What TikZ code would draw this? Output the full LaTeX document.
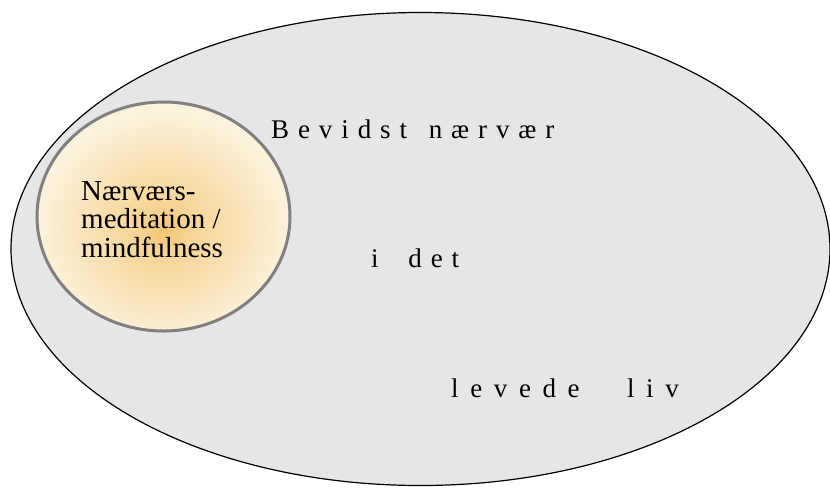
\documentclass[tikz,border=0pt]{standalone}
\usepackage{fontspec}
\setmainfont{LiberationSerif}[Extension=.ttf,UprightFont=*-Regular,BoldFont=*-Bold]
\newfontfamily\widefont{LiberationSerif}[Extension=.ttf,UprightFont=*-Regular,LetterSpace=33]
\newfontfamily\widerfont{LiberationSerif}[Extension=.ttf,UprightFont=*-Regular,LetterSpace=43]
\usetikzlibrary{shapes.geometric}

\definecolor{fieldgray}{RGB}{230,230,230}
\definecolor{ringgray}{RGB}{128,128,128}
\definecolor{glowcore}{RGB}{245,198,115}
\definecolor{glowrim}{RGB}{251,242,220}
\pgfdeclareradialshading{glow}{\pgfpoint{0bp}{-3bp}}{%
  color(0bp)=(glowcore);color(5bp)=(glowcore!70!glowrim);
  color(25bp)=(glowrim);color(100bp)=(glowrim)}

\begin{document}
\begin{tikzpicture}[x=1pt,y=-1pt,
        field/.style={ellipse,draw=black,line width=1.2pt,fill=fieldgray,inner sep=0pt},
        core/.style={ellipse,draw=ringgray,line width=3pt,shading=glow,inner sep=0pt},
        coretext/.style={align=left,inner sep=0pt,font=\fontsize{29}{28.5}\selectfont},
        spaced/.style={inner sep=0pt,anchor=base west,font=\widefont\fontsize{27}{30}\selectfont}]
    \useasboundingbox (0,0) rectangle (830,488);

    \node[field,minimum width=819pt,minimum height=473pt] (life) at (420.5,249) {};
    \node[core,minimum width=253pt,minimum height=229pt] (practice) at (163.5,216.5) {};

    \node[coretext,anchor=north west] (practicetext) at (81,181) {Nærværs-\\meditation /\\mindfulness};

    \node[spaced] (aware) at (271,138) {Bevidst\hspace{6pt} nærvær};
    \node[spaced] (inthe) at (371,267) {i\hspace{14pt} det};
    \node[spaced,font=\widerfont\fontsize{27}{30}\selectfont] (lived) at (451,397) {levede\hspace{29pt} liv};
\end{tikzpicture}
\end{document}
